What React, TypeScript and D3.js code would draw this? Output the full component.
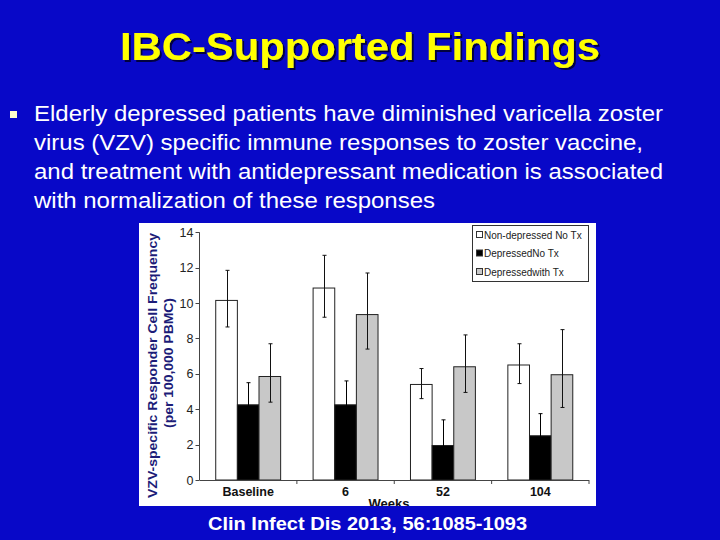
import React, {useEffect, useRef} from 'react';
import * as d3 from 'd3';

// chart data
const categories = ['Baseline', '6', '52', '104'];
const seriesNames = ['Non-depressed No Tx', 'DepressedNo Tx', 'Depressedwith Tx'];
const nonDepNoTx = [10.15, 10.85, 5.4, 6.5];
const nonDepNoTxHigh = [11.85, 12.7, 6.3, 7.7];
const nonDepNoTxLow = [8.65, 9.2, 4.6, 5.45];
const depNoTx = [4.25, 4.25, 1.95, 2.5];
const depNoTxHigh = [5.5, 5.6, 3.4, 3.75];
const depNoTxLow = [3.0, 2.9, 0.5, 1.25];
const depTx = [5.85, 9.35, 6.4, 5.95];
const depTxHigh = [7.7, 11.7, 8.2, 8.5];
const depTxLow = [4.4, 7.4, 4.95, 4.1];
const yTicks = [0, 2, 4, 6, 8, 10, 12, 14];

const bulletLines = [
    'Elderly depressed patients have diminished varicella zoster',
    'virus (VZV) specific immune responses to zoster vaccine,',
    'and treatment with antidepressant medication is associated',
    'with normalization of these responses'
];
const bulletWidths = [629, 609, 629, 401];

const FONT = '"Liberation Sans", Arial, sans-serif';
const BLUE = '#0808c8';
const fills = ['#ffffff', '#000000', '#c8c8c8'];

export default function App() {
    const ref = useRef<SVGSVGElement>(null);

    useEffect(() => {
        const svg = d3.select(ref.current);
        svg.selectAll('*').remove();

        const defs = svg.append('defs');
        defs.append('filter').attr('id', 'shadow').attr('x', '-5%').attr('y', '-20%')
            .attr('width', '110%').attr('height', '140%')
            .append('feDropShadow').attr('dx', 2).attr('dy', 2).attr('stdDeviation', 0.6)
            .attr('flood-color', '#000030').attr('flood-opacity', 0.9);

        svg.append('rect').attr('width', 720).attr('height', 540).attr('fill', BLUE);

        // title
        svg.append('text').attr('x', 360).attr('y', 60).attr('text-anchor', 'middle')
            .attr('font-family', FONT).attr('font-weight', 'bold').attr('font-size', 39)
            .attr('textLength', 480).attr('lengthAdjust', 'spacingAndGlyphs')
            .attr('filter', 'url(#shadow)')
            .attr('fill', '#ffff00').text('IBC-Supported Findings');

        // bullet
        svg.append('rect').attr('x', 10).attr('y', 111).attr('width', 7).attr('height', 7).attr('fill', '#ffffcc');
        svg.selectAll('text.bullet').data(bulletLines).enter().append('text')
            .attr('class', 'bullet')
            .attr('x', 34).attr('y', (d, i) => 121 + i * 29)
            .attr('font-family', FONT).attr('font-size', 22).attr('fill', '#ffffff')
            .attr('textLength', (d, i) => bulletWidths[i]).attr('lengthAdjust', 'spacingAndGlyphs')
            .text(d => d);

        // citation
        svg.append('text').attr('x', 367.5).attr('y', 530).attr('text-anchor', 'middle')
            .attr('font-family', FONT).attr('font-weight', 'bold').attr('font-size', 18)
            .attr('textLength', 319).attr('lengthAdjust', 'spacingAndGlyphs')
            .attr('fill', '#ffffff').text('Clin Infect Dis 2013, 56:1085-1093');

        // chart panel
        const panel = {x: 139, y: 223, w: 457, h: 283};
        defs.append('clipPath').attr('id', 'panelClip')
            .append('rect').attr('x', panel.x).attr('y', panel.y).attr('width', panel.w).attr('height', panel.h);
        svg.append('rect').attr('x', panel.x).attr('y', panel.y).attr('width', panel.w).attr('height', panel.h)
            .attr('fill', '#ffffff');
        const g = svg.append('g').attr('clip-path', 'url(#panelClip)');

        const x0 = 199.5, x1 = 589;
        const x = d3.scaleBand().domain(categories).range([x0, x1]).paddingInner(1 / 3).paddingOuter(1 / 6);
        const xs = d3.scaleBand().domain(seriesNames).range([0, x.bandwidth()]);
        const y = d3.scaleLinear().domain([0, 14]).range([480, 232.3]);

        const series = [
            {name: seriesNames[0], v: nonDepNoTx, hi: nonDepNoTxHigh, lo: nonDepNoTxLow},
            {name: seriesNames[1], v: depNoTx, hi: depNoTxHigh, lo: depNoTxLow},
            {name: seriesNames[2], v: depTx, hi: depTxHigh, lo: depTxLow}
        ];

        // bars
        series.forEach((s, si) => {
            g.selectAll('rect.s' + si).data(categories).enter().append('rect')
                .attr('class', 's' + si)
                .attr('x', c => (x(c) as number) + (xs(s.name) as number))
                .attr('y', (c, i) => y(s.v[i]))
                .attr('width', xs.bandwidth())
                .attr('height', (c, i) => y(0) - y(s.v[i]))
                .attr('fill', fills[si]).attr('stroke', '#222').attr('stroke-width', 1);
        });

        // error bars
        series.forEach((s, si) => {
            categories.forEach((c, i) => {
                const cx = Math.round((x(c) as number) + (xs(s.name) as number) + xs.bandwidth() / 2) + 0.5;
                const eg = g.append('g').attr('stroke', si === 1 ? '#000' : '#111').attr('stroke-width', 1);
                eg.append('line').attr('x1', cx).attr('x2', cx).attr('y1', y(s.hi[i])).attr('y2', y(s.lo[i]));
                eg.append('line').attr('x1', cx - 2).attr('x2', cx + 2).attr('y1', y(s.hi[i])).attr('y2', y(s.hi[i]));
                eg.append('line').attr('x1', cx - 2).attr('x2', cx + 2).attr('y1', y(s.lo[i])).attr('y2', y(s.lo[i]));
            });
        });

        // y axis
        g.append('line').attr('x1', x0).attr('x2', x0).attr('y1', y(14)).attr('y2', y(0))
            .attr('stroke', '#444');
        const yt = g.selectAll('g.yt').data(yTicks).enter().append('g').attr('class', 'yt');
        yt.append('line').attr('x1', x0 - 4).attr('x2', x0).attr('y1', d => Math.round(y(d)) + 0.5)
            .attr('y2', d => Math.round(y(d)) + 0.5).attr('stroke', '#444');
        yt.append('text').attr('x', x0 - 6).attr('y', d => y(d) + 4.5).attr('text-anchor', 'end')
            .attr('font-family', FONT).attr('font-size', 12.5).attr('fill', '#222').text(d => d);

        // x axis
        g.append('line').attr('x1', x0).attr('x2', x1).attr('y1', y(0) + 0.5).attr('y2', y(0) + 0.5)
            .attr('stroke', '#444');
        const step = x.step();
        g.selectAll('line.xt').data(categories).enter().append('line').attr('class', 'xt')
            .attr('x1', (c, i) => x0 + (i + 1) * step).attr('x2', (c, i) => x0 + (i + 1) * step)
            .attr('y1', y(0)).attr('y2', y(0) + 4).attr('stroke', '#444');
        g.selectAll('text.xl').data(categories).enter().append('text').attr('class', 'xl')
            .attr('x', c => (x(c) as number) + x.bandwidth() / 2).attr('y', 496)
            .attr('text-anchor', 'middle').attr('font-family', FONT).attr('font-weight', 'bold')
            .attr('font-size', 12.5).attr('fill', '#111').text(c => c);
        g.append('text').attr('x', 389).attr('y', 508).attr('text-anchor', 'middle')
            .attr('font-family', FONT).attr('font-weight', 'bold').attr('font-size', 13)
            .attr('fill', '#111').text('Weeks');

        // y axis title
        g.append('text').attr('transform', 'translate(157,365.5) rotate(-90)').attr('text-anchor', 'middle')
            .attr('font-family', FONT).attr('font-weight', 'bold').attr('font-size', 13)
            .attr('textLength', 265).attr('lengthAdjust', 'spacingAndGlyphs')
            .attr('fill', '#1c1c78').text('VZV-specific Responder Cell Frequency');
        g.append('text').attr('transform', 'translate(173,363) rotate(-90)').attr('text-anchor', 'middle')
            .attr('font-family', FONT).attr('font-weight', 'bold').attr('font-size', 13)
            .attr('textLength', 130).attr('lengthAdjust', 'spacingAndGlyphs')
            .attr('fill', '#1c1c78').text('(per 100,000 PBMC)');

        // legend
        const lg = g.append('g');
        lg.append('rect').attr('x', 472.5).attr('y', 225.5).attr('width', 116).attr('height', 56)
            .attr('fill', '#ffffff').attr('stroke', '#333');
        const items = lg.selectAll('g.li').data(seriesNames).enter().append('g').attr('class', 'li')
            .attr('transform', (d, i) => `translate(476,${235 + i * 18.5})`);
        items.append('rect').attr('x', 0.5).attr('y', -3.5).attr('width', 6).attr('height', 6)
            .attr('fill', (d, i) => fills[i]).attr('stroke', '#333');
        items.append('text').attr('x', 8).attr('y', 3.5).attr('font-family', FONT).attr('font-size', 10)
            .attr('fill', '#222').text(d => d);
    }, []);

    return (
        <svg ref={ref} width={720} height={540} xmlns="http://www.w3.org/2000/svg"
             style={{position: 'absolute', left: 0, top: 0, display: 'block'}}/>
    );
}
